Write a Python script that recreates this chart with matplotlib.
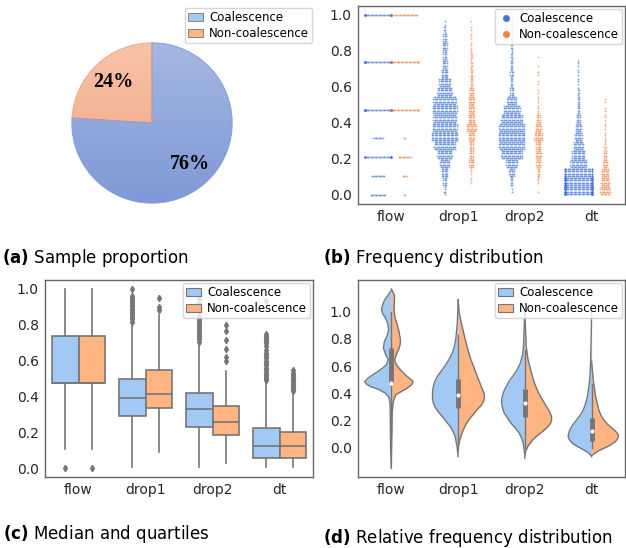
import numpy as np
import matplotlib
matplotlib.use('Agg')
import matplotlib.pyplot as plt
from matplotlib.patches import Patch
from matplotlib.lines import Line2D
from matplotlib.colors import LinearSegmentedColormap

# ---------------- data ----------------
classes = ['Coalescence', 'Non-coalescence']
share = [76, 24]                       # (a) sample proportion, %
cats = ['flow', 'drop1', 'drop2', 'dt']

# (b) swarm: flow takes a few discrete values, the rest counted in 0.05 bins
flow_levels = [0.0, 0.105, 0.21, 0.315, 0.475, 0.737, 1.0]
flow_coal = [12, 10, 40, 8, 80, 70, 60]
flow_non = [2, 4, 10, 2, 25, 25, 20]
bin_lo = [0.00, 0.05, 0.10, 0.15, 0.20, 0.25, 0.30, 0.35, 0.40, 0.45,
          0.50, 0.55, 0.60, 0.65, 0.70, 0.75, 0.80, 0.85, 0.90, 0.95]
drop1_coal = [5, 12, 20, 30, 45, 65, 80, 75, 70, 75, 70, 45, 35, 20, 15, 12, 15, 12, 6, 1]
drop1_non = [0, 3, 3, 15, 12, 12, 18, 30, 20, 18, 18, 14, 8, 8, 6, 6, 4, 3, 2, 1]
drop2_coal = [2, 8, 18, 35, 65, 78, 80, 78, 65, 50, 30, 12, 8, 10, 8, 6, 6, 5, 3, 2]
drop2_non = [1, 3, 8, 14, 18, 16, 25, 18, 12, 4, 3, 2, 2, 2, 1, 1, 0, 0, 0, 0]
dt_coal = [200, 160, 100, 50, 40, 30, 22, 18, 12, 8, 8, 6, 3, 3, 3, 0, 0, 0, 0, 0]
dt_non = [30, 25, 22, 14, 10, 5, 4, 3, 3, 2, 2, 0, 0, 0, 0, 0, 0, 0, 0, 0]

# (c) box statistics per category: [coalescence, non-coalescence]
box_q1 = [[0.474, 0.474], [0.288, 0.333], [0.230, 0.184], [0.056, 0.056]]
box_med = [[0.474, 0.474], [0.390, 0.413], [0.329, 0.256], [0.121, 0.121]]
box_q3 = [[0.736, 0.736], [0.496, 0.550], [0.420, 0.348], [0.223, 0.203]]
box_lo = [[0.108, 0.108], [0.005, 0.087], [0.005, 0.026], [0.005, 0.005]]
box_hi = [[1.0, 1.0], [0.808, 0.853], [0.697, 0.541], [0.480, 0.422]]
fliers = [
    [[0.0], [0.0]],
    [[0.815, 0.83, 0.84, 0.85, 0.86, 0.87, 0.88, 0.89, 0.90, 0.91, 0.92, 0.93, 0.94, 0.95, 0.96, 1.0],
     [0.883, 0.898, 0.95]],
    [[0.705, 0.72, 0.73, 0.74, 0.75, 0.76, 0.77, 0.78, 0.79, 0.80, 0.81, 0.82, 0.83, 0.84, 0.85, 0.88, 0.92, 0.95],
     [0.597, 0.619, 0.665, 0.717, 0.764, 0.796]],
    [[0.49, 0.50, 0.51, 0.52, 0.53, 0.545, 0.55, 0.56, 0.575, 0.58, 0.59, 0.60, 0.615, 0.62, 0.63, 0.645,
      0.66, 0.68, 0.70, 0.71, 0.72, 0.73, 0.74, 0.75, 0.93],
     [0.43, 0.44, 0.45, 0.46, 0.47, 0.48, 0.49, 0.50, 0.51, 0.52, 0.53, 0.545]],
]

# (d) violin density profiles (relative), value levels top -> bottom
vio_flow_coal_y = [1.16, 1.12, 1.088, 1.05, 1.015, 0.98, 0.954, 0.91, 0.867, 0.82, 0.782, 0.733, 0.69, 0.647,
                   0.61, 0.586, 0.56, 0.537, 0.51, 0.488, 0.47, 0.451, 0.43, 0.402, 0.37, 0.328, 0.206, 0.01, -0.15]
vio_flow_coal_d = [0, .13, .25, .33, .37, .31, .22, .13, .10, .17, .26, .30, .22, .12,
                   .19, .33, .52, .70, .89, 1.0, .94, .78, .48, .22, .09, .05, .04, .03, 0]
vio_flow_non_y = [1.167, 1.14, 1.113, 1.06, 1.015, 0.96, 0.917, 0.86, 0.794, 0.76, 0.733, 0.69, 0.647,
                  0.61, 0.574, 0.53, 0.505, 0.488, 0.465, 0.439, 0.41, 0.39, 0.341, 0.255, 0.01, -0.14]
vio_flow_non_d = [0, .07, .12, .11, .10, .13, .20, .28, .34, .33, .29, .19, .12,
                  .19, .34, .56, .72, .81, .76, .59, .33, .16, .07, .03, .01, 0]
vio_drop1_coal_y = [1.088, 0.917, 0.794, 0.745, 0.696, 0.647, 0.598, 0.56, 0.525, 0.49, 0.451, 0.41,
                    0.365, 0.33, 0.292, 0.26, 0.23, 0.19, 0.157, 0.12, 0.083, 0.04, 0.01, -0.064]
vio_drop1_coal_d = [0, .03, .09, .14, .22, .35, .51, .65, .78, .87, .93, .96,
                    .96, .93, .84, .72, .59, .43, .29, .19, .11, .07, .04, 0]
vio_drop1_non_y = [1.088, 0.99, 0.892, 0.794, 0.696, 0.647, 0.598, 0.55, 0.50, 0.45, 0.402, 0.37,
                   0.341, 0.31, 0.279, 0.24, 0.206, 0.17, 0.132, 0.095, 0.059, 0.01, -0.03]
vio_drop1_non_d = [0, .04, .15, .27, .40, .48, .58, .67, .77, .87, .97, .99,
                   .95, .85, .70, .54, .40, .28, .19, .12, .06, .01, 0]
vio_drop2_coal_y = [1.0, 0.868, 0.745, 0.68, 0.623, 0.57, 0.525, 0.49, 0.451, 0.41, 0.377, 0.346,
                    0.316, 0.285, 0.255, 0.22, 0.181, 0.145, 0.108, 0.07, 0.034, -0.04, -0.076]
vio_drop2_coal_d = [0, .03, .05, .09, .17, .30, .46, .59, .70, .80, .85, .87,
                    .86, .83, .77, .65, .52, .35, .21, .12, .06, .01, 0]
vio_drop2_non_y = [0.99, 0.745, 0.647, 0.549, 0.50, 0.451, 0.41, 0.377, 0.34, 0.304, 0.265, 0.23,
                   0.205, 0.181, 0.15, 0.12, 0.09, 0.059, 0.01, -0.025, -0.05]
vio_drop2_non_d = [0, .05, .12, .25, .32, .41, .50, .59, .70, .81, .93, 1.0,
                   1.0, .96, .83, .66, .46, .29, .10, .03, 0]
vio_dt_coal_y = [1.01, 0.868, 0.623, 0.50, 0.377, 0.33, 0.279, 0.24, 0.206, 0.175, 0.145, 0.115,
                 0.083, 0.06, 0.034, 0.01, -0.015, -0.035, -0.051, -0.064]
vio_dt_coal_d = [0, .01, .04, .07, .16, .22, .31, .43, .56, .69, .78, .85,
                 .88, .83, .72, .52, .29, .13, .04, 0]
vio_dt_non_y = [0.635, 0.50, 0.377, 0.279, 0.24, 0.206, 0.175, 0.145, 0.12, 0.096, 0.07, 0.047,
                0.02, -0.002, -0.02, -0.04, -0.055]
vio_dt_non_d = [0, .06, .15, .27, .35, .46, .59, .77, .91, 1.0, .98, .89,
                .69, .46, .26, .11, 0]
# inner box of the violins (both classes together)
inner_q1 = [0.474, 0.29, 0.23, 0.05]
inner_med = [0.474, 0.39, 0.33, 0.125]
inner_q3 = [0.737, 0.51, 0.43, 0.22]
inner_lo = [0.105, 0.0, 0.0, 0.0]
inner_hi = [1.0, 0.83, 0.72, 0.47]

# ---------------- style ----------------
pastel = ['#a1c9f4', '#ffb482']
muted = ['#4878d0', '#ee854a']
gray = '#767676'
spine_c = '#666666'
tick_fs = 10
leg_kw = dict(fontsize=8.5, borderpad=0.25, handlelength=1.3, handletextpad=0.5,
              labelspacing=0.3, borderaxespad=0.25, framealpha=0.8, edgecolor='0.8')

W, H = 626, 548
fig = plt.figure(figsize=(W / 100, H / 100), dpi=100)


def px_axes(l, t, r, b):
    return fig.add_axes([l / W, 1 - b / H, (r - l) / W, (b - t) / H])


def style_axes(ax):
    ax.set_xlim(-0.5, 3.5)
    ax.set_xticks(range(len(cats)))
    ax.set_xticklabels(cats)
    ax.tick_params(length=0, pad=4.5, labelsize=tick_fs, colors='#262626')
    for s in ax.spines.values():
        s.set_color(spine_c)
        s.set_linewidth(1.0)


# ---------------- (a) pie ----------------
ax_a = px_axes(71, 42, 233, 204)
wedges, _, autos = ax_a.pie(share[::-1], colors=[pastel[1], pastel[0]], startangle=90,
                            autopct='%1.0f%%', pctdistance=0.7, radius=1,
                            wedgeprops=dict(linewidth=0.6),
                            textprops=dict(family='Liberation Serif', weight='bold', size=14.5))
grad_cols = [('#f7c3a8', '#f3a27e'), ('#a6b7e2', '#7e99d6')]
for w, (c0, c1) in zip(wedges, grad_cols):
    cmap = LinearSegmentedColormap.from_list('g', [c0, c1])
    w.set_edgecolor(c1)
    im = ax_a.imshow(np.linspace(0, 1, 256).reshape(-1, 1), cmap=cmap, extent=(-1, 1, -1, 1),
                     aspect='auto', origin='upper', zorder=0.5)
    im.set_clip_path(w)
    w.set_facecolor('none')
ax_a.set_xlim(-1.01, 1.01)
ax_a.set_ylim(-1.01, 1.01)
ax_a.set_aspect('equal')
ax_a.axis('off')
fig.legend(handles=[Patch(facecolor=pastel[0], edgecolor=gray, lw=0.6, label=classes[0]),
                    Patch(facecolor=pastel[1], edgecolor=gray, lw=0.6, label=classes[1])],
           loc='upper right', bbox_to_anchor=(312 / W, 1 - 8 / H), borderaxespad=0,
           **{k: v for k, v in leg_kw.items() if k != 'borderaxespad'})

# ---------------- (b) swarm ----------------
ax_b = px_axes(358, 6, 625, 204)
DX = 0.02       # horizontal spacing between dots, category units
HALF = 0.2      # half width of each dodged swarm
ROWS = 4        # dot rows per 0.05 bin


def swarm(ax, xc, ys, ns, color):
    xs, yy = [], []
    for y, n in zip(ys, ns):
        if n <= 0:
            continue
        offs = np.clip((np.arange(n) - (n - 1) / 2) * DX, -HALF, HALF)
        xs.extend(xc + offs)
        yy.extend([y] * n)
    ax.scatter(xs, yy, s=1.8, color=color, lw=0, alpha=0.65)


def binned_rows(counts):
    ys, ns = [], []
    for lo, c in zip(bin_lo, counts):
        for r in range(ROWS):
            ys.append(lo + (r + 0.5) * 0.05 / ROWS)
            ns.append(c // ROWS + (1 if (r - 1) % ROWS < c % ROWS else 0))
    return ys, ns


swarm(ax_b, 0 - 0.2, flow_levels, flow_coal, muted[0])
swarm(ax_b, 0 + 0.2, flow_levels, flow_non, muted[1])
for i, (cc, cn) in enumerate([(drop1_coal, drop1_non), (drop2_coal, drop2_non), (dt_coal, dt_non)], 1):
    swarm(ax_b, i - 0.2, *binned_rows(cc), muted[0])
    swarm(ax_b, i + 0.2, *binned_rows(cn), muted[1])
style_axes(ax_b)
ax_b.set_ylim(-0.05, 1.05)
ax_b.set_yticks([0, 0.2, 0.4, 0.6, 0.8, 1.0])
ax_b.legend(handles=[Line2D([], [], ls='', marker='o', ms=4, color=muted[0], label=classes[0]),
                     Line2D([], [], ls='', marker='o', ms=4, color=muted[1], label=classes[1])],
            loc='upper right', **leg_kw)

# ---------------- (c) box ----------------
ax_c = px_axes(45, 280, 313, 477)
for h in range(2):
    stats = []
    for i in range(len(cats)):
        stats.append(dict(med=box_med[i][h], q1=box_q1[i][h], q3=box_q3[i][h],
                          whislo=box_lo[i][h], whishi=box_hi[i][h], fliers=fliers[i][h]))
    pos = [i + (0.2 if h else -0.2) for i in range(len(cats))]
    ax_c.bxp(stats, positions=pos, widths=0.4, patch_artist=True, showcaps=False,
             boxprops=dict(facecolor=pastel[h], edgecolor=gray, lw=1.2),
             medianprops=dict(color=gray, lw=1.2),
             whiskerprops=dict(color=gray, lw=1.2),
             flierprops=dict(marker='d', ms=3.2, mfc=gray, mec=gray))
style_axes(ax_c)
ax_c.set_ylim(-0.05, 1.05)
ax_c.set_yticks([0, 0.2, 0.4, 0.6, 0.8, 1.0])
ax_c.set_yticklabels(['0.0', '0.2', '0.4', '0.6', '0.8', '1.0'])
patch_handles = [Patch(facecolor=pastel[0], edgecolor=gray, lw=0.8, label=classes[0]),
                 Patch(facecolor=pastel[1], edgecolor=gray, lw=0.8, label=classes[1])]
ax_c.legend(handles=patch_handles, loc='upper right', **leg_kw)

# ---------------- (d) split violins ----------------
ax_d = px_axes(358, 280, 625, 477)
VW = 0.4
profiles = [
    (vio_flow_coal_y, vio_flow_coal_d, vio_flow_non_y, vio_flow_non_d),
    (vio_drop1_coal_y, vio_drop1_coal_d, vio_drop1_non_y, vio_drop1_non_d),
    (vio_drop2_coal_y, vio_drop2_coal_d, vio_drop2_non_y, vio_drop2_non_d),
    (vio_dt_coal_y, vio_dt_coal_d, vio_dt_non_y, vio_dt_non_d),
]
for i, (yc, dc, yn, dn) in enumerate(profiles):
    yc, dc, yn, dn = map(np.asarray, (yc, dc, yn, dn))
    ax_d.fill_betweenx(yc, i - dc * VW, i, color=pastel[0], lw=0)
    ax_d.fill_betweenx(yn, i, i + dn * VW, color=pastel[1], lw=0)
    ax_d.plot(i - dc * VW, yc, color=gray, lw=1.0)
    ax_d.plot(i + dn * VW, yn, color=gray, lw=1.0)
    ax_d.plot([i, i], [inner_lo[i], inner_hi[i]], color=gray, lw=1.0)
    ax_d.plot([i, i], [inner_q1[i], inner_q3[i]], color=gray, lw=3.5, solid_capstyle='butt')
    ax_d.scatter([i], [inner_med[i]], s=4, color='white', zorder=3)
style_axes(ax_d)
ax_d.set_ylim(-0.213, 1.233)
ax_d.set_yticks([0, 0.2, 0.4, 0.6, 0.8, 1.0])
ax_d.set_yticklabels(['0.0', '0.2', '0.4', '0.6', '0.8', '1.0'])
ax_d.legend(handles=patch_handles, loc='upper right', **leg_kw)

# ---------------- captions ----------------
cap_kw = dict(fontsize=12, va='center', ha='left')
fig.text(2 / W, 1 - 258 / H, r'$\mathbf{(a)}$ Sample proportion', **cap_kw)
fig.text(323 / W, 1 - 258 / H, r'$\mathbf{(b)}$ Frequency distribution', **cap_kw)
fig.text(3 / W, 1 - 534 / H, r'$\mathbf{(c)}$ Median and quartiles', **cap_kw)
fig.text(323 / W, 1 - 538 / H, r'$\mathbf{(d)}$ Relative frequency distribution', **cap_kw)

fig.savefig('out.png', dpi=100)
